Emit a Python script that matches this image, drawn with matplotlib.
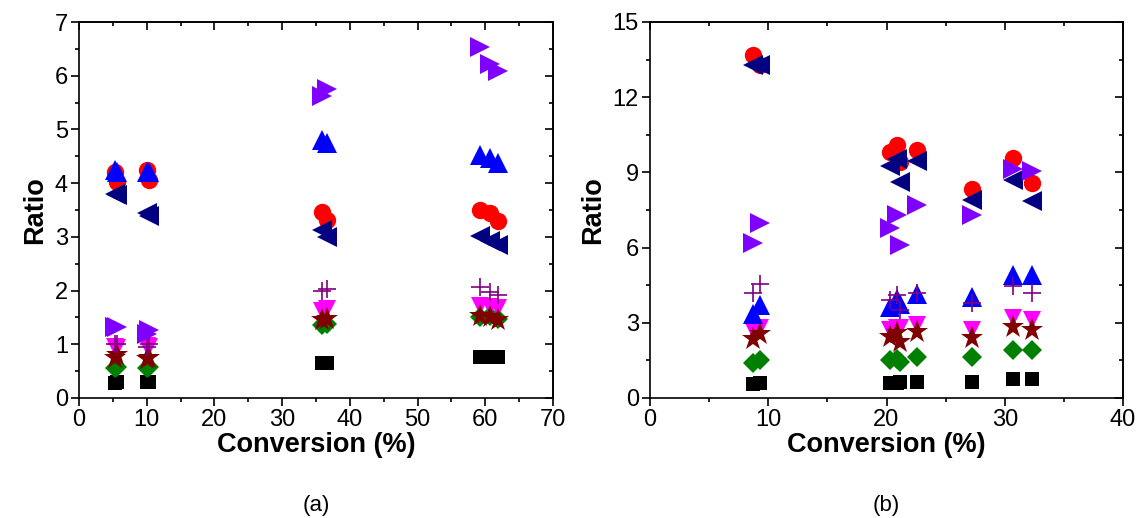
import numpy as np
import matplotlib.pyplot as plt
from matplotlib.ticker import MultipleLocator

plt.rcParams["font.family"] = ["Liberation Sans", "DejaVu Sans"]

# panel (a)
conv_a = [5.3, 5.6, 10.1, 10.4, 35.9, 36.6, 59.2, 60.7, 61.9]
square_a = [0.28, 0.30, 0.30, 0.30, 0.65, 0.65, 0.76, 0.76, 0.77]
diamond_a = [0.55, 0.57, 0.55, 0.57, 1.35, 1.38, 1.50, 1.52, 1.48]
star_a = [0.75, 0.80, 0.72, 0.75, 1.45, 1.48, 1.52, 1.50, 1.45]
vtri_a = [0.95, 0.93, 0.97, 0.95, 1.62, 1.65, 1.72, 1.70, 1.68]
plus_a = [1.00, 1.00, 0.95, 1.00, 2.00, 2.02, 2.07, 1.97, 1.92]
rtri_a = [1.33, 1.33, 1.20, 1.27, 5.62, 5.75, 6.54, 6.22, 6.08]
utri_a = [4.25, 4.20, 4.20, 4.20, 4.80, 4.75, 4.52, 4.47, 4.38]
circle_a = [4.20, 4.02, 4.25, 4.05, 3.47, 3.32, 3.50, 3.45, 3.30]
ltri_a = [3.80, 3.78, 3.45, 3.38, 3.12, 3.00, 3.02, 2.92, 2.85]

# panel (b)
conv_b = [8.7, 9.3, 20.3, 20.9, 21.1, 22.6, 27.2, 30.7, 32.3]
square_b = [0.55, 0.60, 0.60, 0.60, 0.62, 0.65, 0.65, 0.75, 0.75]
diamond_b = [1.40, 1.50, 1.50, 1.55, 1.45, 1.65, 1.65, 1.90, 1.90]
star_b = [2.35, 2.55, 2.45, 2.60, 2.25, 2.65, 2.40, 2.85, 2.70]
vtri_b = [2.70, 2.80, 2.70, 2.80, 2.80, 2.90, 2.72, 3.20, 3.10]
plus_b = [4.20, 4.55, 3.90, 4.10, 3.50, 4.20, 3.80, 4.45, 4.20]
utri_b = [3.35, 3.70, 3.65, 3.95, 3.75, 4.15, 4.03, 4.90, 4.90]
rtri_b = [6.20, 7.00, 6.80, 7.30, 6.10, 7.70, 7.30, 9.15, 9.05]
circle_b = [13.70, 13.30, 9.80, 10.10, 9.40, 9.90, 8.35, 9.57, 8.57]
ltri_b = [13.30, 13.30, 9.25, 9.55, 8.60, 9.45, 7.90, 8.70, 7.85]

# drawing order: marker, color, size
styles = [
    ("square", "s", "black", 10.5),
    ("diamond", "D", "#008000", 10),
    ("vtri", "v", "#FF00FF", 13),
    ("star", "*", "#800000", 17),
    ("circle", "o", "#FF0000", 12.5),
    ("utri", "^", "#0000FF", 14),
    ("plus", "+", "#800080", 13),
    ("ltri", "<", "#000080", 14),
    ("rtri", ">", "#8000FF", 14),
]

data_a = {"square": square_a, "diamond": diamond_a, "vtri": vtri_a, "star": star_a,
          "circle": circle_a, "utri": utri_a, "plus": plus_a, "ltri": ltri_a, "rtri": rtri_a}
data_b = {"square": square_b, "diamond": diamond_b, "vtri": vtri_b, "star": star_b,
          "circle": circle_b, "utri": utri_b, "plus": plus_b, "ltri": ltri_b, "rtri": rtri_b}


def panel(ax, conv, data, xmax, xmaj, ymax, ymaj, tag):
    for name, mk, col, ms in styles:
        kw = dict(mew=1.2) if mk == "+" else dict(mew=0)
        ax.plot(conv, data[name], linestyle="none", marker=mk, color=col, ms=ms, **kw)
    ax.set_xlim(0, xmax)
    ax.set_ylim(0, ymax)
    ax.xaxis.set_major_locator(MultipleLocator(xmaj))
    ax.xaxis.set_minor_locator(MultipleLocator(xmaj / 2))
    ax.yaxis.set_major_locator(MultipleLocator(ymaj))
    ax.yaxis.set_minor_locator(MultipleLocator(ymaj / 2))
    ax.tick_params(which="both", direction="out", labelsize=17, width=1.2, pad=2)
    ax.tick_params(which="major", length=6)
    ax.tick_params(which="minor", length=3)
    # inward ticks on top and right, like the original
    top = ax.secondary_xaxis("top")
    top.xaxis.set_major_locator(MultipleLocator(xmaj))
    top.xaxis.set_minor_locator(MultipleLocator(xmaj / 2))
    top.tick_params(which="both", direction="in", labeltop=False, width=1.2)
    top.tick_params(which="major", length=6)
    top.tick_params(which="minor", length=3)
    right = ax.secondary_yaxis("right")
    right.yaxis.set_major_locator(MultipleLocator(ymaj))
    right.yaxis.set_minor_locator(MultipleLocator(ymaj / 2))
    right.tick_params(which="both", direction="in", labelright=False, width=1.2)
    right.tick_params(which="major", length=6)
    right.tick_params(which="minor", length=3)
    for s in list(ax.spines.values()) + [top.spines["top"], right.spines["right"]]:
        s.set_linewidth(1.2)
    ax.set_xlabel("Conversion (%)", fontsize=19.5, fontweight="bold", labelpad=1)
    ax.set_ylabel("Ratio", fontsize=19.5, fontweight="bold", labelpad=5)
    ax.text(0.5, -0.285, tag, transform=ax.transAxes, ha="center", va="center", fontsize=16)


fig = plt.figure(figsize=(11.41, 5.18), dpi=100)
ax1 = fig.add_axes([79 / 1141, 1 - 398 / 518, (553 - 79) / 1141, (398 - 22) / 518])
ax2 = fig.add_axes([650 / 1141, 1 - 398 / 518, (1123 - 650) / 1141, (398 - 22) / 518])

panel(ax1, conv_a, data_a, 70, 10, 7, 1, "(a)")
panel(ax2, conv_b, data_b, 40, 10, 15, 3, "(b)")

fig.savefig("out.png", dpi=100)
